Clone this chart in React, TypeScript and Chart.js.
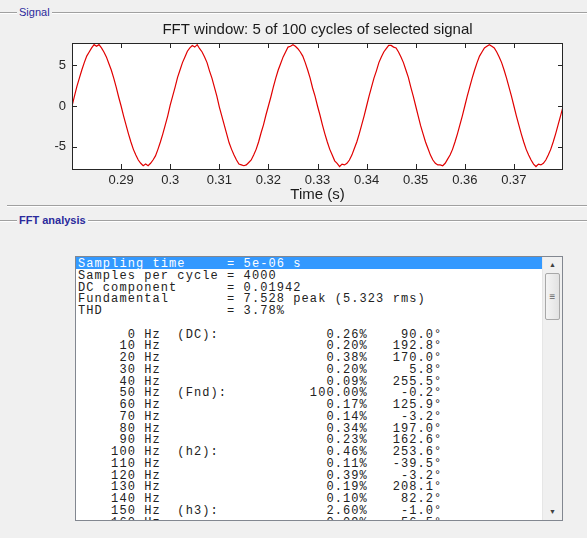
import React, { useEffect, useRef } from 'react';
import { Chart, registerables } from 'chart.js';

Chart.register(...registerables);

// ---- Signal data ----
const startTime = 0.28;
const sampleStep = 0.0005;
const signalValues = [
  0.0, 1.2, 2.4, 3.4, 4.4, 5.3, 6.1, 6.6, 7.1, 7.5, 7.3, 7.5, 7.1, 6.6, 6.0, 5.2, 4.4, 3.4, 2.3, 1.1,
  0.0, -1.2, -2.3, -3.4, -4.4, -5.3, -6.0, -6.6, -7.0, -7.3, -7.1, -7.3, -7.0, -6.6, -6.1, -5.3, -4.4, -3.4, -2.3, -1.2,
  0.1, 1.2, 2.3, 3.5, 4.4, 5.3, 6.0, 6.7, 7.1, 7.4, 7.2, 7.5, 7.0, 6.6, 6.0, 5.3, 4.3, 3.4, 2.3, 1.2,
  -0.1, -1.2, -2.3, -3.4, -4.5, -5.3, -6.0, -6.6, -7.1, -7.2, -7.3, -7.2, -6.9, -6.6, -6.0, -5.3, -4.4, -3.3, -2.3, -1.1,
  0.0, 1.1, 2.3, 3.4, 4.4, 5.2, 6.0, 6.6, 7.2, 7.3, 7.5, 7.3, 7.0, 6.6, 6.1, 5.3, 4.4, 3.4, 2.2, 1.2,
  0.0, -1.1, -2.3, -3.4, -4.4, -5.3, -6.0, -6.7, -7.0, -7.4, -7.1, -7.2, -7.0, -6.6, -6.0, -5.2, -4.4, -3.4, -2.3, -1.2,
  0.0, 1.2, 2.3, 3.4, 4.3, 5.3, 6.0, 6.6, 7.0, 7.4, 7.4, 7.2, 7.1, 6.6, 6.0, 5.3, 4.4, 3.5, 2.3, 1.2,
  0.0, -1.2, -2.4, -3.4, -4.4, -5.2, -6.0, -6.6, -7.0, -7.2, -7.2, -7.3, -7.0, -6.5, -6.0, -5.3, -4.4, -3.4, -2.3, -1.2,
  0.0, 1.2, 2.3, 3.4, 4.4, 5.3, 6.1, 6.6, 7.1, 7.3, 7.5, 7.3, 7.1, 6.6, 6.0, 5.3, 4.4, 3.4, 2.3, 1.2,
  0.0, -1.2, -2.3, -3.4, -4.4, -5.3, -6.0, -6.6, -7.1, -7.4, -7.1, -7.2, -7.0, -6.6, -6.0, -5.3, -4.4, -3.4, -2.3, -1.2,
  -0.1,
];
const xTicks = [0.29, 0.3, 0.31, 0.32, 0.33, 0.34, 0.35, 0.36, 0.37];
const yTicks = [-5, 0, 5];

// ---- FFT analysis text ----
const headerNames = ['Sampling time', 'Samples per cycle', 'DC component', 'Fundamental', 'THD'];
const headerValues = ['5e-06 s', '4000', '0.01942', '7.528 peak (5.323 rms)', '3.78%'];
const freqs = [0, 10, 20, 30, 40, 50, 60, 70, 80, 90, 100, 110, 120, 130, 140, 150, 160];
const freqTags = ['(DC):', '', '', '', '', '(Fnd):', '', '', '', '', '(h2):', '', '', '', '', '(h3):', ''];
const mags = [0.26, 0.20, 0.38, 0.20, 0.09, 100.0, 0.17, 0.14, 0.34, 0.23, 0.46, 0.11, 0.39, 0.19, 0.10, 2.60, 0.09];
const phases = [90.0, 192.8, 170.0, 5.8, 255.5, -0.2, 125.9, -3.2, 197.0, 162.6, 253.6, -39.5, -3.2, 208.1, 82.2, -1.0, 56.5];

const FONT = "'Liberation Sans', Arial, sans-serif";
const MONO = "'Liberation Mono', 'Courier New', monospace";

const boxPlugin = {
  id: 'matlabBox',
  beforeDraw(chart: any) {
    const { ctx, chartArea: a } = chart;
    ctx.save();
    ctx.fillStyle = '#ffffff';
    ctx.fillRect(a.left, a.top, a.right - a.left, a.bottom - a.top);
    ctx.restore();
  },
  afterDatasetsDraw(chart: any) {
    const { ctx, chartArea: a, scales } = chart;
    ctx.save();
    ctx.strokeStyle = '#262626';
    ctx.lineWidth = 1;
    ctx.strokeRect(Math.round(a.left) + 0.5, Math.round(a.top) + 0.5, Math.round(a.right - a.left) - 1, Math.round(a.bottom - a.top));
    const tl = 5;
    ctx.beginPath();
    scales.x.ticks.forEach((t: any) => {
      const px = Math.round(scales.x.getPixelForValue(t.value)) + 0.5;
      ctx.moveTo(px, a.bottom);
      ctx.lineTo(px, a.bottom - tl);
      ctx.moveTo(px, a.top);
      ctx.lineTo(px, a.top + tl);
    });
    scales.y.ticks.forEach((t: any) => {
      const py = Math.round(scales.y.getPixelForValue(t.value)) + 0.5;
      ctx.moveTo(a.left, py);
      ctx.lineTo(a.left + tl, py);
      ctx.moveTo(a.right, py);
      ctx.lineTo(a.right - tl, py);
    });
    ctx.stroke();
    ctx.restore();
  },
};

function buildLines(): string[] {
  const lines: string[] = [];
  headerNames.forEach((n, i) => lines.push(n.padEnd(18) + '= ' + headerValues[i]));
  lines.push('');
  freqs.forEach((f, i) => {
    lines.push(
      String(f).padStart(7) + ' Hz' + '  ' + freqTags[i].padEnd(16) +
        (mags[i].toFixed(2) + '%').padStart(7) +
        (phases[i].toFixed(1) + '°').padStart(9)
    );
  });
  return lines;
}

function FieldHeader({ top, text, bold, lineStart }: { top: number; text: string; bold?: boolean; lineStart?: number }) {
  return (
    <>
      <div style={{ position: 'absolute', left: lineStart ?? 0, top, width: 587 - (lineStart ?? 0), height: 0, borderTop: '1px solid #a0a0a0', borderBottom: '1px solid #ffffff' }} />
      <div
        style={{
          position: 'absolute',
          left: 17,
          top: top - 7,
          padding: '0 2px',
          background: '#f0f0f0',
          font: `${bold ? 'bold ' : ''}11px ${FONT}`,
          color: '#2a2a9c',
          lineHeight: '14px',
        }}
      >
        {text}
      </div>
    </>
  );
}

export default function App() {
  const canvasRef = useRef<HTMLCanvasElement | null>(null);

  useEffect(() => {
    if (!canvasRef.current) return;
    const points = signalValues.map((v, i) => ({ x: startTime + i * sampleStep, y: v }));
    const chart = new Chart(canvasRef.current, {
      type: 'line',
      data: {
        datasets: [
          {
            data: points,
            borderColor: '#e00000',
            borderWidth: 1.2,
            pointRadius: 0,
            tension: 0,
            fill: false,
          },
        ],
      },
      plugins: [boxPlugin],
      options: {
        animation: false,
        responsive: false,
        devicePixelRatio: 1,
        layout: { padding: { left: 0, right: 24, top: 0, bottom: 0 } },
        plugins: {
          legend: { display: false },
          tooltip: { enabled: false },
          title: {
            display: true,
            fullSize: false,
            text: 'FFT window: 5 of 100 cycles of selected signal',
            color: '#1a1a1a',
            font: { family: FONT, size: 15, weight: 'normal' },
            padding: { top: 21, bottom: 4 },
          },
        },
        scales: {
          x: {
            type: 'linear',
            min: 0.28,
            max: 0.38,
            grid: { display: false, drawTicks: false },
            border: { display: false },
            afterBuildTicks: (scale: any) => {
              scale.ticks = xTicks.map((v) => ({ value: v }));
            },
            afterFit: (scale: any) => {
              scale.height = 36;
            },
            ticks: {
              autoSkip: false,
              maxRotation: 0,
              padding: 4,
              color: '#262626',
              font: { family: FONT, size: 13 },
              callback: (v: any) => String(Math.round(Number(v) * 100) / 100),
            },
            title: {
              display: true,
              text: 'Time (s)',
              color: '#1a1a1a',
              font: { family: FONT, size: 15 },
              padding: { top: 0, bottom: 1 },
            },
          },
          y: {
            type: 'linear',
            min: -7.7,
            max: 7.7,
            grid: { display: false, drawTicks: false },
            border: { display: false },
            afterBuildTicks: (scale: any) => {
              scale.ticks = yTicks.map((v) => ({ value: v }));
            },
            afterFit: (scale: any) => {
              scale.width = 72;
            },
            ticks: {
              padding: 6,
              color: '#262626',
              font: { family: FONT, size: 13 },
              callback: (v: any) => String(v),
            },
          },
        },
      } as any,
    });
    return () => chart.destroy();
  }, []);

  const lines = buildLines();

  return (
    <div style={{ position: 'fixed', left: 0, top: 0, width: 587, height: 538, background: '#f0f0f0', overflow: 'hidden' }}>
      <canvas ref={canvasRef} width={587} height={205} style={{ position: 'absolute', left: 0, top: 0, display: 'block' }} />
      <FieldHeader top={12} text="Signal" />
      <div style={{ position: 'absolute', left: 7, top: 205, width: 580, height: 0, borderTop: '1px solid #a0a0a0', borderBottom: '1px solid #ffffff' }} />
      <FieldHeader top={220} text="FFT analysis" bold />
      <div
        style={{
          position: 'absolute',
          left: 75,
          top: 256,
          width: 486,
          height: 263,
          border: '1px solid #828790',
          background: '#ffffff',
          overflow: 'hidden',
        }}
      >
        <div style={{ position: 'absolute', left: 0, top: 0, right: 20, bottom: 0, overflow: 'hidden' }}>
          {lines.map((ln, i) => (
            <div
              key={i}
              style={{
                height: 11.76,
                lineHeight: '11.76px',
                whiteSpace: 'pre',
                font: `12px ${MONO}`,
                letterSpacing: '1.08px',
                paddingLeft: 2,
                color: i === 0 ? '#ffffff' : '#222222',
                background: i === 0 ? '#3399ff' : 'transparent',
              }}
            >
              {ln || ' '}
            </div>
          ))}
        </div>
        <div style={{ position: 'absolute', right: 0, top: 0, width: 19, bottom: 0, background: '#f0f0f0', borderLeft: '1px solid #e6e6e6' }}>
          <div style={{ position: 'absolute', left: 0, right: 0, top: 2, height: 12, textAlign: 'center', font: `7px ${FONT}`, color: '#404040', lineHeight: '12px' }}>▲</div>
          <div
            style={{
              position: 'absolute',
              left: 2,
              right: 2,
              top: 16,
              height: 45,
              background: 'linear-gradient(to right, #f4f4f4, #e2e2e2)',
              border: '1px solid #a8a8a8',
              borderRadius: 2,
              textAlign: 'center',
              font: `10px ${FONT}`,
              color: '#606060',
              lineHeight: '45px',
            }}
          >
            ≡
          </div>
          <div style={{ position: 'absolute', left: 0, right: 0, bottom: 2, height: 12, textAlign: 'center', font: `7px ${FONT}`, color: '#404040', lineHeight: '12px' }}>▼</div>
        </div>
      </div>
    </div>
  );
}
